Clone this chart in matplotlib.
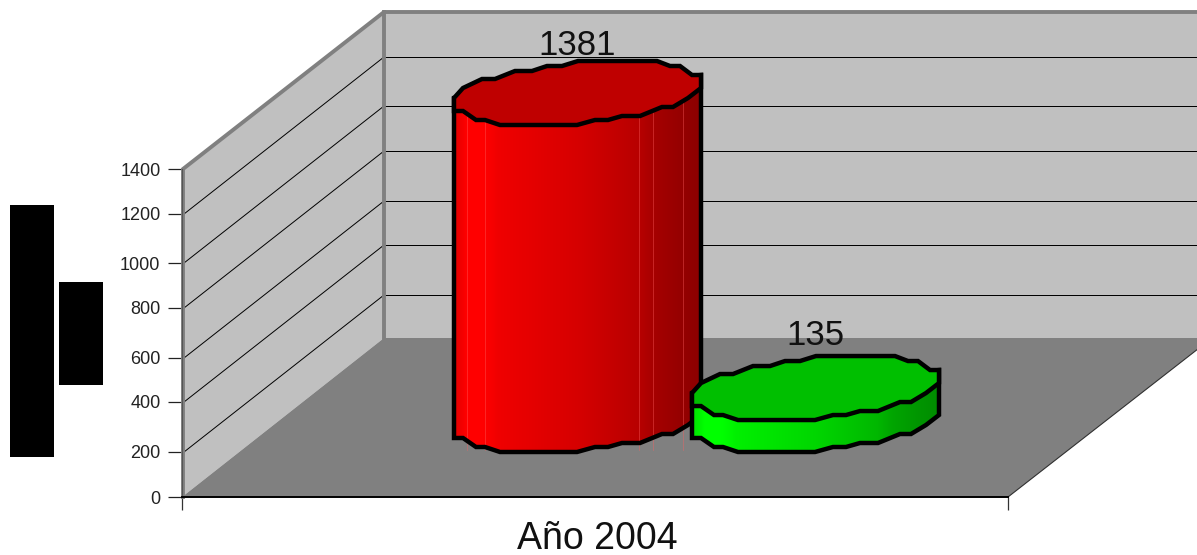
import numpy as np
import matplotlib
matplotlib.use("Agg")
import matplotlib.pyplot as plt
from matplotlib.patches import Polygon, Rectangle

# ---- data ----
categories = ["Año 2004"]
series_values = [1381, 135]
series_rgb = [(1.0, 0.0, 0.0), (0.0, 1.0, 0.0)]
y_ticks = [0, 200, 400, 600, 800, 1000, 1200, 1400]
tick_rows = [497, 452, 402, 358, 308, 263, 214, 169]   # pixel row of each tick as drawn

# ---- layout (pixels of the 1197x555 picture) ----
W, H = 1197, 555
Y0, Y_TOP = 497, 169
PPV = (Y0 - Y_TOP) / 1400.0
BAR_PPV = 327 / 1381.0
X0, X1 = 182, 1008
DX, DY = 202, 157
FLOOR_BACK = 338
BAR_LEFT = [454, 692]
BAR_FRONT = 452
CAP_DEPTH = 64
# polygonal cap outline, relative to the bar's left edge / cap's top
cap_dx = [0, 9, 28, 41, 61, 78, 93, 108, 124, 203, 216, 226, 238, 247,
          247, 234, 219, 208, 186, 168, 154, 141, 123, 46, 31, 22, 9, 0]
cap_dy = [37, 27, 18, 18, 10, 10, 5, 5, 0, 0, 5, 5, 14, 14,
          27, 37, 46, 46, 55, 55, 59, 59, 64, 64, 59, 59, 50, 50]
front_start = 14   # outline index where the front edge begins (right end)
grad_x = [0, .03, .05, .12, .18, .50, .75, .81, .93, 1]
grad_v = [.90, .95, 1, 1, .94, .84, .72, .65, .58, .55]
facets = [.053, .125, .749, .806, .927]
label_gap = [6, 11]


def v(py):
    """picture row -> value on the y axis"""
    return (Y0 - np.asarray(py, dtype=float)) / PPV


fig = plt.figure(figsize=(W / 100, H / 100), dpi=100, facecolor="white")
ax = fig.add_axes([0, 0, 1, 1], facecolor="white")
plt.rcParams["font.family"] = ["Liberation Sans", "DejaVu Sans"]
TICK_FONT = "Liberation Sans"


def poly(xs, ys, **kw):
    p = Polygon(np.column_stack([xs, v(ys)]), closed=True, **kw)
    ax.add_patch(p)
    return p


# walls and floor
poly([X0, X0 + DX, X0 + DX, X0], [Y0, FLOOR_BACK, Y_TOP - DY, Y_TOP], fc="#c0c0c0", ec="none", zorder=1)
poly([X0 + DX, W + 5, W + 5, X0 + DX], [FLOOR_BACK, FLOOR_BACK, Y_TOP - DY, Y_TOP - DY], fc="#c0c0c0", ec="none", zorder=1)
poly([X0, X1, X1 + 204, X0 + DX], [Y0, Y0, FLOOR_BACK, FLOOR_BACK], fc="#808080", ec="none", zorder=1)

# gridlines
for r in tick_rows[1:-1]:
    ax.plot([X0 + 2, X0 + DX], v([r, r - DY]), color="black", lw=0.7, zorder=2)
    ax.plot([X0 + DX, W], v([r - DY, r - DY]), color="black", lw=0.72, zorder=2, snap=True)
ax.plot([X1, X1 + 204], v([Y0, FLOOR_BACK]), color="#303030", lw=0.8, zorder=2)

# wall border
ax.plot([X0 + 1, X0 + 1, X0 + DX, W], v([Y0, Y_TOP, Y_TOP - DY, Y_TOP - DY]), color="#808080", lw=2.8, zorder=3,
        solid_joinstyle="miter")
ax.plot([X0 + DX, X0 + DX], v([Y_TOP - DY, FLOOR_BACK]), color="#808080", lw=2.8, zorder=3)

# bars
for i, val in enumerate(series_values):
    z = 5 + i
    left = BAR_LEFT[i]
    h = val * BAR_PPV
    cap_top = BAR_FRONT - h - CAP_DEPTH
    cx = left + np.array(cap_dx, float)
    cy = cap_top + np.array(cap_dy, float)
    fx = cx[front_start:][::-1]
    fy = cy[front_start:][::-1] + h
    bx = np.r_[fx, cx[13], cx[0]]
    by = np.r_[fy, cy[13], cy[0]]
    body = poly(bx, by, fc="none", ec="none", zorder=z)
    t = np.linspace(0, 1, 400)
    shade = np.interp(t, grad_x, grad_v)
    img = np.outer(shade, series_rgb[i]).reshape(1, -1, 3)
    im = ax.imshow(img, extent=(left, left + 247, v(BAR_FRONT), v(cap_top)), aspect="auto",
                   zorder=z, interpolation="bilinear")
    im.set_clip_path(body)
    if i == 0:
        for f in facets:
            fxp = left + f * 247
            ax.plot([fxp, fxp], v([cap_top + 40, BAR_FRONT - 2]), color="#ff6060", lw=0.5, alpha=.55, zorder=z)
    poly(bx, by, fc="none", ec="black", lw=3.2, joinstyle="miter", zorder=z + .1)
    top_rgb = tuple(c * 0.75 for c in series_rgb[i])
    poly(cx, cy, fc=top_rgb, ec="black", lw=3.2, joinstyle="miter", zorder=z + .2)
    ax.text(left + 123, v(cap_top - label_gap[i]), str(val), ha="center", va="baseline",
            fontsize=25, family="Liberation Sans", color="#111111", zorder=9)

# masked title blocks of the source picture
ax.add_patch(Rectangle((10, v(457)), 44, v(205) - v(457), fc="black", ec="none"))
ax.add_patch(Rectangle((59, v(385)), 44, v(282) - v(385), fc="black", ec="none"))

# axes
ax.set_xlim(0, W)
ax.set_ylim(v(H), v(0))
for s in ("top", "right"):
    ax.spines[s].set_visible(False)
ax.spines["left"].set_position(("data", X0))
ax.spines["left"].set_bounds(0, 1400)
ax.spines["left"].set_color("#555555")
ax.spines["left"].set_zorder(4)
ax.spines["bottom"].set_position(("data", 0))
ax.spines["bottom"].set_bounds(X0, X1)
ax.spines["bottom"].set_linewidth(1.4)
ax.spines["bottom"].set_zorder(4)
ax.set_yticks(v(tick_rows))
ax.set_yticklabels([str(t) for t in y_ticks], fontsize=13, family=TICK_FONT, color="#222222")
ax.tick_params(axis="y", length=10, width=0.9, pad=5.5, color="#222222")
ax.set_xticks([(X0 + X1) / 2 + 2])
ax.set_xticklabels(categories, fontsize=27, family=TICK_FONT, color="#111111")
ax.tick_params(axis="x", which="major", length=0, pad=17)
ax.set_xticks([X0, X1], minor=True)
ax.tick_params(axis="x", which="minor", length=9.5, width=0.9, color="#333333")

fig.savefig("out.png", dpi=100)
